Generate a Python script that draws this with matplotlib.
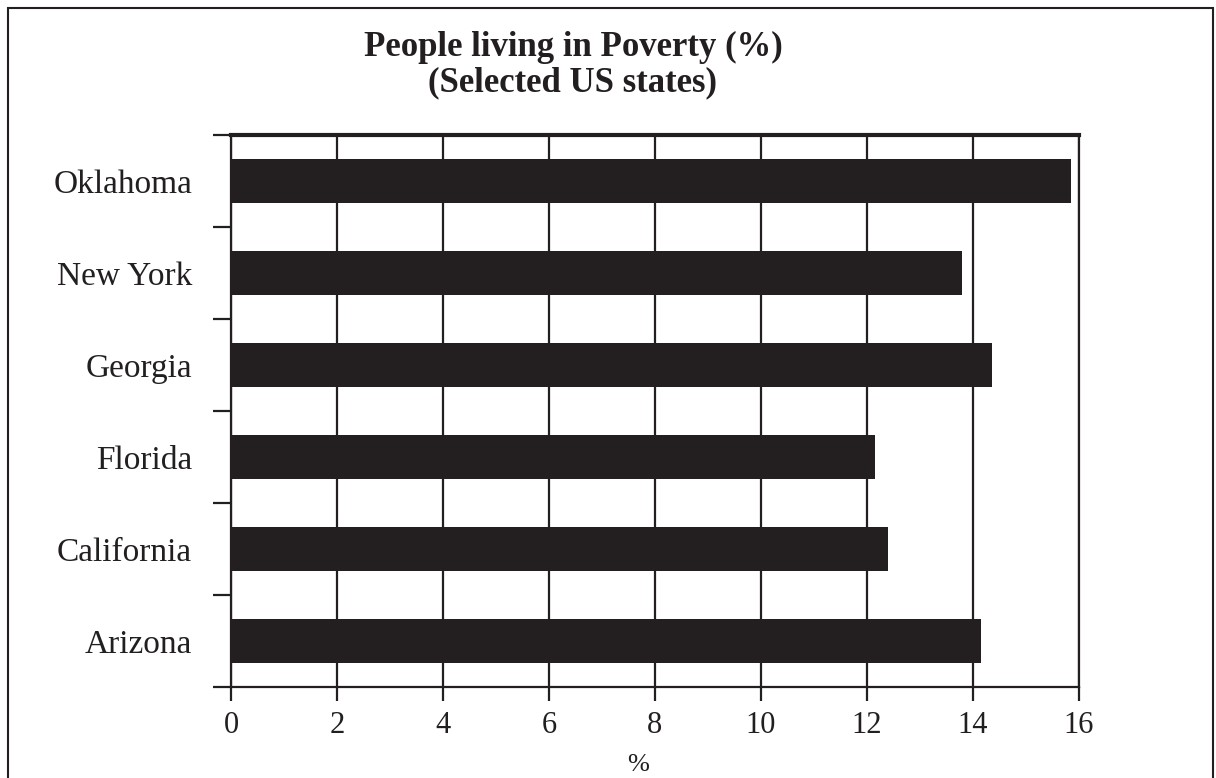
import matplotlib.pyplot as plt
from matplotlib.patches import Rectangle
import numpy as np

# data
states = ['Arizona', 'California', 'Florida', 'Georgia', 'New York', 'Oklahoma']
poverty = [14.15, 12.4, 12.15, 14.35, 13.8, 15.85]
x_ticks = [0, 2, 4, 6, 8, 10, 12, 14, 16]

INK = '#231f20'
plt.rcParams['font.family'] = ['Liberation Serif', 'DejaVu Serif']

fig = plt.figure(figsize=(12.16, 7.78), dpi=100)
ax = fig.add_axes([231 / 1216, 1 - 687 / 778, (1079 - 231) / 1216, (687 - 135) / 778])

y = np.arange(len(states))
ax.barh(y, poverty, height=0.47, color=INK, zorder=3)

ax.set_xlim(0, 16)
ax.set_ylim(-0.5, len(states) - 0.5)
ax.set_xticks(x_ticks)
ax.set_xticklabels([str(t) for t in x_ticks], fontsize=22, color=INK)
ax.grid(axis='x', color=INK, linewidth=1.6, zorder=1)

# category labels sit between the tick marks
ax.set_yticks(np.arange(-0.5, len(states), 1.0))
ax.set_yticklabels([])
ax.set_yticks(y, minor=True)
ax.set_yticklabels(states, minor=True, fontsize=24, color=INK)
ax.tick_params(axis='y', which='minor', length=0, pad=28)
ax.tick_params(axis='y', which='major', length=13, width=1.6, color=INK, direction='out')
ax.tick_params(axis='x', length=10, width=1.6, color=INK, direction='out', pad=7)

for s in ['left', 'bottom', 'right']:
    ax.spines[s].set_color(INK)
    ax.spines[s].set_linewidth(1.6)
ax.spines['top'].set_color(INK)
ax.spines['top'].set_linewidth(3)

ax.set_xlabel('%', fontsize=19, color=INK)
ax.xaxis.set_label_coords((638 - 231) / 848, -0.122)

fig.text(573 / 1216, 1 - 65 / 778, 'People living in Poverty (%)\n(Selected US states)',
         ha='center', va='center', fontsize=25, fontweight='bold', color=INK, linespacing=1.12)

# outer frame
fig.patches.append(Rectangle((8 / 1216, -0.05), (1213 - 8) / 1216, 1.05 - 8 / 778,
                             transform=fig.transFigure, fill=False, edgecolor=INK, linewidth=1.5))

fig.savefig('out.png', dpi=100)
